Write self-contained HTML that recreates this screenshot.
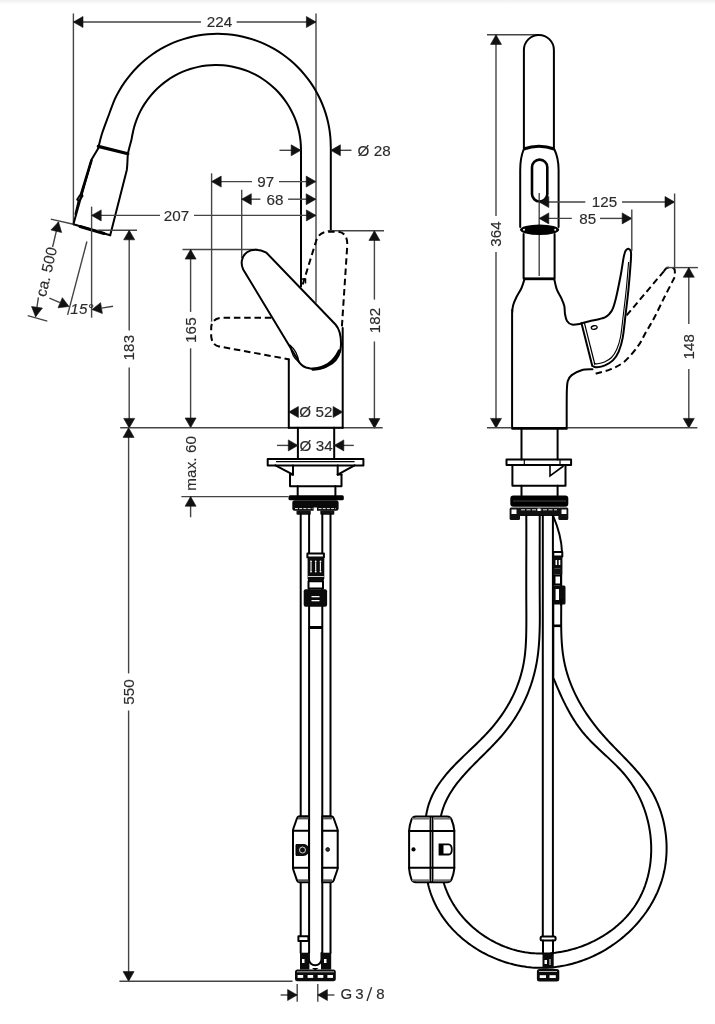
<!DOCTYPE html>
<html><head><meta charset="utf-8"><style>
html,body{margin:0;padding:0;background:#fff;}
body{width:715px;height:1024px;overflow:hidden;position:relative;}
svg{display:block;position:absolute;left:0;top:0;will-change:transform;}
text{font-family:"Liberation Sans",sans-serif;fill:#2b2b2b;stroke:#2b2b2b;stroke-width:0.15px;letter-spacing:0.1px;}
.topband{position:absolute;left:0;top:0;width:715px;height:4px;background:linear-gradient(#f0f0f0,#f7f7f7 60%,#fff);}
</style></head><body>
<div class="topband"></div>
<svg width="715" height="1024" viewBox="0 0 715 1024">
<line x1="73.4" y1="13.5" x2="73.4" y2="224.2" stroke="#444" stroke-width="1.4" fill="none" />
<line x1="316" y1="13.5" x2="316" y2="302.7" stroke="#444" stroke-width="1.4" fill="none" />
<line x1="73.4" y1="22" x2="201" y2="22" stroke="#444" stroke-width="1.4" fill="none" />
<line x1="236.6" y1="22" x2="316" y2="22" stroke="#444" stroke-width="1.4" fill="none" />
<polygon points="73.4,22 83,16.5 83,27.5" fill="#111" stroke="#111" stroke-width="0.6" stroke-linejoin="round"/>
<polygon points="316,22 306.4,27.5 306.4,16.5" fill="#111" stroke="#111" stroke-width="0.6" stroke-linejoin="round"/>
<text x="219.6" y="27.3" font-size="15.2" text-anchor="middle" >224</text>
<path d="M330.8,230.8 C330.8,224 330.8,201.8 330.8,190 C330.8,178.2 330.8,167.15 330.8,160 C330.8,152.85 330.87,150.9 330.8,147.1 C330.73,143.3 330.66,140.5 330.37,137.23 C330.08,133.95 329.65,130.67 329.08,127.43 C328.51,124.18 327.79,120.96 326.94,117.78 C326.09,114.6 325.09,111.44 323.97,108.35 C322.84,105.26 321.58,102.2 320.18,99.22 C318.79,96.23 317.27,93.3 315.62,90.45 C313.97,87.6 312.2,84.81 310.31,82.11 C308.42,79.42 306.41,76.79 304.29,74.27 C302.18,71.75 299.94,69.31 297.62,66.98 C295.29,64.66 292.85,62.42 290.33,60.31 C287.81,58.19 285.18,56.18 282.49,54.29 C279.79,52.4 277,50.63 274.15,48.98 C271.3,47.33 268.37,45.81 265.38,44.42 C262.4,43.02 259.34,41.76 256.25,40.63 C253.16,39.51 250,38.51 246.82,37.66 C243.64,36.81 240.42,36.09 237.17,35.52 C233.93,34.95 230.65,34.52 227.37,34.23 C224.1,33.94 220.79,33.8 217.5,33.8 C214.21,33.8 210.9,33.94 207.63,34.23 C204.35,34.52 201.07,34.95 197.83,35.52 C194.58,36.09 191.36,36.81 188.18,37.66 C185,38.51 181.84,39.51 178.75,40.63 C175.66,41.76 172.6,43.02 169.62,44.42 C166.63,45.81 163.7,47.33 160.85,48.98 C158,50.63 155.21,52.4 152.51,54.29 C149.82,56.18 147.19,58.19 144.67,60.31 C142.15,62.42 139.71,64.66 137.38,66.98 C135.06,69.31 132.82,71.75 130.71,74.27 C128.59,76.79 126.58,79.42 124.69,82.11 C122.8,84.81 121.03,87.6 119.38,90.45 C117.73,93.3 116.68,94.88 114.82,99.22 C112.95,103.56 110.3,110.87 108.2,116.5 C106.1,122.13 103.8,128.02 102.2,133 C100.6,137.98 99.2,144.17 98.6,146.4" stroke="#000" stroke-width="2" fill="none" stroke-linejoin="round" stroke-linecap="round"/>
<path d="M301,286.5 C301,272.08 301,220.25 301,200 C301,179.75 301,173.33 301,165 C301,156.67 301.07,153.9 301,150 C300.93,146.1 300.86,144.39 300.58,141.61 C300.31,138.82 299.89,136.04 299.34,133.3 C298.79,130.55 298.1,127.82 297.29,125.15 C296.47,122.47 295.51,119.83 294.43,117.24 C293.36,114.66 292.14,112.12 290.82,109.66 C289.49,107.2 288.03,104.79 286.47,102.47 C284.9,100.15 283.22,97.9 281.43,95.74 C279.64,93.59 277.74,91.51 275.75,89.55 C273.76,87.58 271.67,85.7 269.49,83.94 C267.32,82.18 265.05,80.52 262.71,78.98 C260.37,77.45 257.95,76.02 255.47,74.72 C252.99,73.42 250.44,72.24 247.84,71.19 C245.25,70.14 242.59,69.22 239.9,68.43 C237.22,67.64 234.48,66.99 231.73,66.47 C228.98,65.95 226.2,65.57 223.41,65.32 C220.62,65.08 217.81,64.97 215.01,65.01 C212.21,65.04 209.4,65.21 206.62,65.52 C203.84,65.83 201.06,66.28 198.33,66.86 C195.59,67.44 192.87,68.16 190.2,69.01 C187.54,69.86 184.9,70.84 182.33,71.95 C179.76,73.06 177.24,74.3 174.79,75.66 C172.34,77.01 169.95,78.5 167.65,80.09 C165.35,81.68 163.12,83.39 160.99,85.21 C158.85,87.02 156.8,88.94 154.86,90.95 C152.91,92.97 151.06,95.09 149.32,97.28 C147.59,99.47 145.95,101.77 144.44,104.12 C142.93,106.48 141.53,108.92 140.26,111.41 C138.99,113.9 137.84,116.47 136.82,119.08 C135.81,121.68 134.91,124.35 134.16,127.05 C133.4,129.74 132.75,133.08 132.29,135.24 C131.83,137.4 131.87,138.04 131.4,140 C130.93,141.96 130.08,144.75 129.5,147 C128.92,149.25 128.17,152.42 127.9,153.5" stroke="#000" stroke-width="2" fill="none" stroke-linejoin="round" stroke-linecap="round"/>
<line x1="98.3" y1="146.4" x2="127.9" y2="153.7" stroke="#000" stroke-width="3.2" stroke-linecap="round" />
<polyline points="98.6,147.8 91.6,159.6 73.4,224.2" stroke="#000" stroke-width="2" fill="none" stroke-linejoin="round" stroke-linecap="round"/>
<line x1="91.4" y1="160.5" x2="81.5" y2="193" stroke="#000" stroke-width="2.6" stroke-linecap="round" />
<polygon points="81.5,193 77.2,199.5 79,201 82.5,196" stroke="#000" stroke-width="2" fill="none" stroke-linejoin="round" stroke-linecap="round"/>
<line x1="78.6" y1="201" x2="75.5" y2="214" stroke="#000" stroke-width="2" fill="none" stroke-linejoin="round" stroke-linecap="round" />
<path d="M127.9,153.7 C127.3,160 127.6,165 126.8,170 L110.2,235.2" stroke="#000" stroke-width="2" fill="none" stroke-linejoin="round" stroke-linecap="round"/>
<polyline points="73.4,224.2 110.2,235.2" stroke="#000" stroke-width="2" fill="none" stroke-linejoin="round" stroke-linecap="round"/>
<line x1="80" y1="226.5" x2="104" y2="233.5" stroke="#000" stroke-width="3" stroke-linecap="round" />
<line x1="91.6" y1="206.6" x2="91.6" y2="317.7" stroke="#444" stroke-width="1.4" fill="none" />
<line x1="91.6" y1="215.4" x2="160" y2="215.4" stroke="#444" stroke-width="1.4" fill="none" />
<line x1="194" y1="215.4" x2="316" y2="215.4" stroke="#444" stroke-width="1.4" fill="none" />
<polygon points="91.6,215.4 101.2,209.9 101.2,220.9" fill="#111" stroke="#111" stroke-width="0.6" stroke-linejoin="round"/>
<polygon points="316,215.4 306.4,220.9 306.4,209.9" fill="#111" stroke="#111" stroke-width="0.6" stroke-linejoin="round"/>
<text x="176.5" y="220.5" font-size="15.2" text-anchor="middle" >207</text>
<line x1="279.5" y1="150.3" x2="300.8" y2="150.3" stroke="#444" stroke-width="1.4" fill="none" />
<polygon points="300.8,150.3 291.2,155.8 291.2,144.8" fill="#111" stroke="#111" stroke-width="0.6" stroke-linejoin="round"/>
<line x1="330.8" y1="150.3" x2="351.5" y2="150.3" stroke="#444" stroke-width="1.4" fill="none" />
<polygon points="330.8,150.3 340.4,144.8 340.4,155.8" fill="#111" stroke="#111" stroke-width="0.6" stroke-linejoin="round"/>
<text x="357.5" y="155.8" font-size="15.2" text-anchor="start" >&#216; 28</text>
<line x1="211.6" y1="173.3" x2="211.6" y2="321.7" stroke="#444" stroke-width="1.4" fill="none" />
<line x1="211.6" y1="181.6" x2="252" y2="181.6" stroke="#444" stroke-width="1.4" fill="none" />
<line x1="279" y1="181.6" x2="315.8" y2="181.6" stroke="#444" stroke-width="1.4" fill="none" />
<polygon points="211.6,181.6 221.2,176.1 221.2,187.1" fill="#111" stroke="#111" stroke-width="0.6" stroke-linejoin="round"/>
<polygon points="315.8,181.6 306.2,187.1 306.2,176.1" fill="#111" stroke="#111" stroke-width="0.6" stroke-linejoin="round"/>
<text x="265.8" y="187" font-size="15.2" text-anchor="middle" >97</text>
<line x1="241.7" y1="189.7" x2="241.7" y2="258" stroke="#444" stroke-width="1.4" fill="none" />
<line x1="241.7" y1="199.2" x2="260.4" y2="199.2" stroke="#444" stroke-width="1.4" fill="none" />
<line x1="288.1" y1="199.2" x2="315.8" y2="199.2" stroke="#444" stroke-width="1.4" fill="none" />
<polygon points="241.7,199.2 251.3,193.7 251.3,204.7" fill="#111" stroke="#111" stroke-width="0.6" stroke-linejoin="round"/>
<polygon points="315.8,199.2 306.2,204.7 306.2,193.7" fill="#111" stroke="#111" stroke-width="0.6" stroke-linejoin="round"/>
<text x="275" y="204.5" font-size="15.2" text-anchor="middle" >68</text>
<line x1="97.3" y1="230.2" x2="137" y2="230.2" stroke="#444" stroke-width="1.4" fill="none" />
<line x1="129.2" y1="230.2" x2="129.2" y2="330.5" stroke="#444" stroke-width="1.4" fill="none" />
<line x1="129.2" y1="367.5" x2="129.2" y2="428" stroke="#444" stroke-width="1.4" fill="none" />
<polygon points="129.2,230.2 134.7,239.8 123.7,239.8" fill="#111" stroke="#111" stroke-width="0.6" stroke-linejoin="round"/>
<polygon points="129.2,428 123.7,418.4 134.7,418.4" fill="#111" stroke="#111" stroke-width="0.6" stroke-linejoin="round"/>
<text x="134.3" y="347.6" font-size="15.2" text-anchor="middle" transform="rotate(-90 134.3 347.6)" >183</text>
<line x1="182.5" y1="249.5" x2="258" y2="249.5" stroke="#444" stroke-width="1.4" fill="none" />
<line x1="190.6" y1="249.5" x2="190.6" y2="311.9" stroke="#444" stroke-width="1.4" fill="none" />
<line x1="190.6" y1="348.3" x2="190.6" y2="427.6" stroke="#444" stroke-width="1.4" fill="none" />
<polygon points="190.6,249.5 196.1,259.1 185.1,259.1" fill="#111" stroke="#111" stroke-width="0.6" stroke-linejoin="round"/>
<polygon points="190.6,427.6 185.1,418 196.1,418" fill="#111" stroke="#111" stroke-width="0.6" stroke-linejoin="round"/>
<text x="195.7" y="330.1" font-size="15.2" text-anchor="middle" transform="rotate(-90 195.7 330.1)" >165</text>
<line x1="327.7" y1="230.8" x2="384" y2="230.8" stroke="#444" stroke-width="1.4" fill="none" />
<line x1="374.4" y1="230.8" x2="374.4" y2="299.6" stroke="#444" stroke-width="1.4" fill="none" />
<line x1="374.4" y1="341.5" x2="374.4" y2="428.2" stroke="#444" stroke-width="1.4" fill="none" />
<polygon points="374.4,230.8 379.9,240.4 368.9,240.4" fill="#111" stroke="#111" stroke-width="0.6" stroke-linejoin="round"/>
<polygon points="374.4,428.2 368.9,418.6 379.9,418.6" fill="#111" stroke="#111" stroke-width="0.6" stroke-linejoin="round"/>
<text x="379.5" y="320.5" font-size="15.2" text-anchor="middle" transform="rotate(-90 379.5 320.5)" >182</text>
<line x1="120.2" y1="427.8" x2="382.7" y2="427.8" stroke="#444" stroke-width="1.4" fill="none" />
<path d="M302.7,284.5 L315.8,242 Q318.5,232 328,231.8 L338,231.8 Q347.5,232.5 347.3,245 L341.8,328" stroke="#000" stroke-width="2" fill="none" stroke-dasharray="6.5 3.8"/>
<path d="M271.3,317.8 L222,317.8 Q211.3,318.5 211.2,328 L211.2,336.4 Q212,345 219,346.4 L289.5,359.4" stroke="#000" stroke-width="2" fill="none" stroke-dasharray="6.5 3.8"/>
<path d="M266.4,252.7 L335.5,324.5 C339.5,329 341.2,336 341,345 C340.8,353 338,359 332,363.5 C325,368.5 315,370.5 306,367.5 C302,366 299.5,363.5 297.6,359.5 L243.2,269.5 C240.5,264 241.2,256.5 247,252.2 C251.5,249 259,248.6 266.4,252.7 Z" stroke="#000" stroke-width="2" fill="none" stroke-linejoin="round" stroke-linecap="round"/>
<path d="M313,369.2 C324,368.5 334,362.5 339.3,351" stroke="#000" stroke-width="3.2" fill="none" stroke-linecap="round"/>
<path d="M290.3,345.5 Q297.2,351 298.8,362 Q291.8,357 290.3,345.5 Z" stroke="#000" stroke-width="1.4" fill="none"/>
<polyline points="301,284 301.5,279 305.5,279 305.5,283.5" stroke="#000" stroke-width="1.5" fill="none"/>
<line x1="288.8" y1="359.4" x2="288.8" y2="427.8" stroke="#000" stroke-width="2" fill="none" stroke-linejoin="round" stroke-linecap="round" />
<line x1="342.7" y1="328" x2="342.7" y2="427.8" stroke="#000" stroke-width="2" fill="none" stroke-linejoin="round" stroke-linecap="round" />
<line x1="288.8" y1="427.8" x2="342.7" y2="427.8" stroke="#000" stroke-width="2" fill="none" stroke-linejoin="round" stroke-linecap="round" />
<polygon points="288.8,412 298.4,406.5 298.4,417.5" fill="#111" stroke="#111" stroke-width="0.6" stroke-linejoin="round"/>
<polygon points="342.7,412 333.1,417.5 333.1,406.5" fill="#111" stroke="#111" stroke-width="0.6" stroke-linejoin="round"/>
<text x="316" y="417.2" font-size="15.2" text-anchor="middle" >&#216; 52</text>
<line x1="297.9" y1="427.8" x2="297.9" y2="458.8" stroke="#000" stroke-width="2" fill="none" stroke-linejoin="round" stroke-linecap="round" />
<line x1="334.2" y1="427.8" x2="334.2" y2="458.8" stroke="#000" stroke-width="2" fill="none" stroke-linejoin="round" stroke-linecap="round" />
<line x1="277" y1="445.4" x2="297.9" y2="445.4" stroke="#444" stroke-width="1.4" fill="none" />
<polygon points="297.9,445.4 288.3,450.9 288.3,439.9" fill="#111" stroke="#111" stroke-width="0.6" stroke-linejoin="round"/>
<line x1="334.2" y1="445.4" x2="353.8" y2="445.4" stroke="#444" stroke-width="1.4" fill="none" />
<polygon points="334.2,445.4 343.8,439.9 343.8,450.9" fill="#111" stroke="#111" stroke-width="0.6" stroke-linejoin="round"/>
<text x="316.2" y="450.6" font-size="15.2" text-anchor="middle" >&#216; 34</text>
<rect x="267.7" y="458.9" width="95.7" height="6.5" stroke="#000" stroke-width="2" fill="none" stroke-linejoin="round" stroke-linecap="round"/>
<line x1="276" y1="461.6" x2="354.6" y2="461.6" stroke="#000" stroke-width="1.2" />
<polyline points="275.4,465.4 293,474.6" stroke="#000" stroke-width="2" fill="none" stroke-linejoin="round" stroke-linecap="round"/>
<line x1="293" y1="465.4" x2="293" y2="474.6" stroke="#000" stroke-width="2" fill="none" stroke-linejoin="round" stroke-linecap="round" />
<polyline points="354.6,465.4 337.7,474.6" stroke="#000" stroke-width="2" fill="none" stroke-linejoin="round" stroke-linecap="round"/>
<line x1="337.7" y1="465.4" x2="337.7" y2="474.6" stroke="#000" stroke-width="2" fill="none" stroke-linejoin="round" stroke-linecap="round" />
<polyline points="290,474.6 290,486.2 341.5,486.2 341.5,474.6" stroke="#000" stroke-width="2" fill="none" stroke-linejoin="round" stroke-linecap="round"/>
<line x1="290" y1="474.6" x2="293" y2="474.6" stroke="#000" stroke-width="2" fill="none" stroke-linejoin="round" stroke-linecap="round" />
<line x1="337.7" y1="474.6" x2="341.5" y2="474.6" stroke="#000" stroke-width="2" fill="none" stroke-linejoin="round" stroke-linecap="round" />
<line x1="297.7" y1="486.2" x2="297.7" y2="495.4" stroke="#000" stroke-width="2" fill="none" stroke-linejoin="round" stroke-linecap="round" />
<line x1="335.4" y1="486.2" x2="335.4" y2="495.4" stroke="#000" stroke-width="2" fill="none" stroke-linejoin="round" stroke-linecap="round" />
<rect x="288.5" y="495.2" width="55.3" height="5" rx="1.5" fill="#000"/>
<rect x="292.3" y="500.3" width="46.3" height="10.5" rx="2.5" fill="#0a0a0a"/>
<line x1="295" y1="508.6" x2="312.5" y2="508.6" stroke="#fff" stroke-width="0.9" stroke-dasharray="3 1.2" />
<line x1="318.5" y1="508.6" x2="336" y2="508.6" stroke="#fff" stroke-width="0.9" stroke-dasharray="3 1.2" />
<rect x="313.6" y="507.5" width="3.4" height="5" fill="#fff"/>
<rect x="296.5" y="510.5" width="14.3" height="4.3" rx="1" fill="#111"/>
<rect x="320.3" y="510.5" width="14" height="4.3" rx="1" fill="#111"/>
<line x1="181.4" y1="496.6" x2="288.5" y2="496.6" stroke="#444" stroke-width="1.4" fill="none" />
<line x1="190.6" y1="496.6" x2="190.6" y2="517.3" stroke="#444" stroke-width="1.4" fill="none" />
<polygon points="190.6,496.6 196.1,506.2 185.1,506.2" fill="#111" stroke="#111" stroke-width="0.6" stroke-linejoin="round"/>
<text x="196.2" y="463.3" font-size="15.2" text-anchor="middle" transform="rotate(-90 196.2 463.3)" >max. 60</text>
<line x1="300.7" y1="514" x2="300.7" y2="953" stroke="#000" stroke-width="2" fill="none" stroke-linejoin="round" stroke-linecap="round" />
<line x1="309.1" y1="514" x2="309.1" y2="953" stroke="#000" stroke-width="2" fill="none" stroke-linejoin="round" stroke-linecap="round" />
<line x1="322.3" y1="514" x2="322.3" y2="953" stroke="#000" stroke-width="2" fill="none" stroke-linejoin="round" stroke-linecap="round" />
<line x1="330.5" y1="514" x2="330.5" y2="953" stroke="#000" stroke-width="2" fill="none" stroke-linejoin="round" stroke-linecap="round" />
<rect x="307.4" y="553.5" width="16.5" height="4" fill="#fff" stroke="#000" stroke-width="2" fill="none" stroke-linejoin="round" stroke-linecap="round"/>
<rect x="307.6" y="557.2" width="16.7" height="23.5" rx="2" fill="#0b0b0b"/>
<circle cx="311" cy="561.5" r="0.9" fill="#fff"/>
<circle cx="315.7" cy="561.5" r="0.9" fill="#fff"/>
<circle cx="320.5" cy="561.5" r="0.9" fill="#fff"/>
<circle cx="311" cy="571.5" r="0.9" fill="#fff"/>
<circle cx="315.7" cy="571.5" r="0.9" fill="#fff"/>
<circle cx="320.5" cy="571.5" r="0.9" fill="#fff"/>
<line x1="311" y1="562.5" x2="311" y2="570.5" stroke="#fff" stroke-width="1.1" />
<line x1="315.7" y1="562.5" x2="315.7" y2="570.5" stroke="#fff" stroke-width="1.1" />
<line x1="320.4" y1="562.5" x2="320.4" y2="570.5" stroke="#fff" stroke-width="1.1" />
<line x1="308" y1="576.5" x2="323.8" y2="576.5" stroke="#fff" stroke-width="0.8" />
<rect x="308.5" y="581.2" width="14.5" height="7.4" fill="#fff" stroke="#000" stroke-width="2" fill="none" stroke-linejoin="round" stroke-linecap="round"/>
<rect x="303.7" y="589.2" width="23.4" height="17.6" rx="2" fill="#0b0b0b"/>
<rect x="311.5" y="596" width="8" height="1.3" fill="#fff"/>
<rect x="311.5" y="600" width="8" height="1.3" fill="#fff"/>
<rect x="308.6" y="626" width="13.9" height="3" fill="#000"/>
<path d="M299.5,816.2 Q297.6,816.4 297,818.2 L293.4,828.5 Q293,829.8 293,831 L293,867.5 Q293,868.8 293.4,870 L297,880.3 Q297.6,882.1 299.5,882.3 L309,882.3 L309,816.2 Z" stroke="#000" stroke-width="2" fill="#fff" stroke-linejoin="round"/>
<path d="M331.2,816.2 Q333.1,816.4 333.7,818.2 L337.3,828.5 Q337.7,829.8 337.7,831 L337.7,867.5 Q337.7,868.8 337.3,870 L333.7,880.3 Q333.1,882.1 331.2,882.3 L322.3,882.3 L322.3,816.2 Z" stroke="#000" stroke-width="2" fill="#fff" stroke-linejoin="round"/>
<line x1="293" y1="830.8" x2="309" y2="830.8" stroke="#000" stroke-width="2" fill="none" stroke-linejoin="round" stroke-linecap="round" />
<line x1="322.3" y1="830.8" x2="337.7" y2="830.8" stroke="#000" stroke-width="2" fill="none" stroke-linejoin="round" stroke-linecap="round" />
<line x1="293" y1="867.7" x2="309" y2="867.7" stroke="#000" stroke-width="2" fill="none" stroke-linejoin="round" stroke-linecap="round" />
<line x1="322.3" y1="867.7" x2="337.7" y2="867.7" stroke="#000" stroke-width="2" fill="none" stroke-linejoin="round" stroke-linecap="round" />
<rect x="298" y="817" width="10.5" height="2.4" fill="#555"/>
<rect x="323" y="817" width="9" height="2.4" fill="#555"/>
<rect x="298" y="879.3" width="10.5" height="2.4" fill="#555"/>
<rect x="323" y="879.3" width="9" height="2.4" fill="#555"/>
<path d="M296,844.6 L304,844.6 C308,845 309,848 309,850 C309,853 307,855.4 303,855.4 L296,855.4 Z" fill="#111" stroke="#000" stroke-width="1"/>
<circle cx="302.5" cy="850" r="3" fill="none" stroke="#fff" stroke-width="0.8"/>
<circle cx="327.7" cy="849.5" r="1.9" fill="#333" stroke="#000" stroke-width="0.8"/>
<rect x="298.4" y="936.3" width="10" height="4.7" fill="#fff" stroke="#000" stroke-width="2" fill="none" stroke-linejoin="round" stroke-linecap="round"/>
<path d="M308.9,953 L308.9,959 A6.3,6.3 0 0 0 321.5,959 L321.5,953" stroke="#000" stroke-width="2" fill="none" stroke-linejoin="round" stroke-linecap="round"/>
<rect x="300" y="952.7" width="9.4" height="16.8" fill="#0b0b0b"/>
<rect x="321" y="952.7" width="10.2" height="16.8" fill="#0b0b0b"/>
<rect x="302" y="959" width="2.5" height="4" fill="#fff"/>
<rect x="324" y="959" width="2.5" height="4" fill="#fff"/>
<path d="M312,968 L315.2,970.5 L318.5,968 Z" fill="#000"/>
<rect x="295" y="969.5" width="40.8" height="11.7" rx="2.5" fill="#0b0b0b"/>
<line x1="297" y1="971.8" x2="334" y2="971.8" stroke="#fff" stroke-width="0.7" />
<rect x="297.6" y="975" width="5.6" height="2.9" fill="#fff"/>
<rect x="307.6" y="975" width="5.6" height="2.9" fill="#fff"/>
<rect x="317.7" y="975" width="5.6" height="2.9" fill="#fff"/>
<rect x="327.4" y="975" width="5.6" height="2.9" fill="#fff"/>
<line x1="128.6" y1="437" x2="128.6" y2="673.4" stroke="#444" stroke-width="1.4" fill="none" />
<line x1="128.6" y1="710.4" x2="128.6" y2="981.2" stroke="#444" stroke-width="1.4" fill="none" />
<polygon points="128.6,427.8 134.1,437.4 123.1,437.4" fill="#111" stroke="#111" stroke-width="0.6" stroke-linejoin="round"/>
<polygon points="128.6,981.2 123.1,971.6 134.1,971.6" fill="#111" stroke="#111" stroke-width="0.6" stroke-linejoin="round"/>
<line x1="119.4" y1="981.2" x2="292.5" y2="981.2" stroke="#444" stroke-width="1.4" fill="none" />
<text x="133.7" y="691.9" font-size="15.2" text-anchor="middle" transform="rotate(-90 133.7 691.9)" >550</text>
<line x1="297.2" y1="984" x2="297.2" y2="1001.8" stroke="#444" stroke-width="1.4" fill="none" />
<line x1="317.8" y1="984" x2="317.8" y2="1001.8" stroke="#444" stroke-width="1.4" fill="none" />
<line x1="280.6" y1="995" x2="297.2" y2="995" stroke="#444" stroke-width="1.4" fill="none" />
<polygon points="297.2,995 287.6,1000.5 287.6,989.5" fill="#111" stroke="#111" stroke-width="0.6" stroke-linejoin="round"/>
<line x1="317.8" y1="995" x2="334.4" y2="995" stroke="#444" stroke-width="1.4" fill="none" />
<polygon points="317.8,995 327.4,989.5 327.4,1000.5" fill="#111" stroke="#111" stroke-width="0.6" stroke-linejoin="round"/>
<text x="340.6" y="999" font-size="15" text-anchor="start" >G</text>
<text x="355.3" y="999" font-size="15" text-anchor="start" >3</text>
<line x1="367" y1="1001" x2="371.6" y2="987.3" stroke="#2b2b2b" stroke-width="1.3" />
<text x="376.2" y="999" font-size="15" text-anchor="start" >8</text>
<line x1="50.8" y1="219.1" x2="73.4" y2="224.2" stroke="#444" stroke-width="1.4" fill="none" />
<line x1="27.7" y1="315.6" x2="47.3" y2="321.2" stroke="#444" stroke-width="1.4" fill="none" />
<line x1="58.5" y1="221.9" x2="52.6" y2="247" stroke="#444" stroke-width="1.4" fill="none" />
<line x1="38.4" y1="297.4" x2="35.6" y2="316.5" stroke="#444" stroke-width="1.4" fill="none" />
<polygon points="58.5,221.9 61.66,232.5 50.95,229.99" fill="#111" stroke="#111" stroke-width="0.6" stroke-linejoin="round"/>
<polygon points="35.6,316.8 31.53,306.51 42.41,308.08" fill="#111" stroke="#111" stroke-width="0.6" stroke-linejoin="round"/>
<text x="46.6" y="271.8" font-size="15.2" text-anchor="middle" transform="rotate(-77 46.6 271.8)" dy="5">ca. 500</text>
<line x1="86.9" y1="241.5" x2="67.6" y2="314.9" stroke="#444" stroke-width="1.4" fill="none" />
<polygon points="69,306.5 58.01,307.77 62.34,297.66" fill="#111" stroke="#111" stroke-width="0.6" stroke-linejoin="round"/>
<line x1="49.4" y1="298.1" x2="60" y2="302.6" stroke="#444" stroke-width="1.4" fill="none" />
<polygon points="92,309.6 100.6,302.64 102.36,313.49" fill="#111" stroke="#111" stroke-width="0.6" stroke-linejoin="round"/>
<line x1="113" y1="306.2" x2="101.5" y2="308.1" stroke="#444" stroke-width="1.4" fill="none" />
<text x="82" y="314.3" font-size="15.2" text-anchor="middle" font-style="italic">15&#176;</text>
<line x1="487" y1="34.8" x2="539" y2="34.8" stroke="#444" stroke-width="1.4" fill="none" />
<line x1="496" y1="34.8" x2="496" y2="216" stroke="#444" stroke-width="1.4" fill="none" />
<line x1="496" y1="252" x2="496" y2="428" stroke="#444" stroke-width="1.4" fill="none" />
<polygon points="496,34.8 501.5,44.4 490.5,44.4" fill="#111" stroke="#111" stroke-width="0.6" stroke-linejoin="round"/>
<polygon points="496,428 490.5,418.4 501.5,418.4" fill="#111" stroke="#111" stroke-width="0.6" stroke-linejoin="round"/>
<text x="501.1" y="234" font-size="15.2" text-anchor="middle" transform="rotate(-90 501.1 234)" >364</text>
<path d="M523.9,148 L523.9,50 A15,15 0 0 1 553.9,50 L553.9,148" stroke="#000" stroke-width="2" fill="none" stroke-linejoin="round" stroke-linecap="round"/>
<path d="M523.6,149 Q539,143.5 554.3,149" stroke="#000" stroke-width="3.2" fill="none"/>
<path d="M523.8,149 Q520.2,158 520.2,170 L520.2,227" stroke="#000" stroke-width="2" fill="none" stroke-linejoin="round" stroke-linecap="round"/>
<path d="M554.2,149 Q558.6,158 558.6,170 L558.6,227" stroke="#000" stroke-width="2" fill="none" stroke-linejoin="round" stroke-linecap="round"/>
<rect x="532" y="159.6" width="15.3" height="41.9" rx="7.6" stroke="#000" stroke-width="2.6" fill="none"/>
<line x1="539.2" y1="193" x2="539.2" y2="276" stroke="#444" stroke-width="1.4" fill="none" />
<ellipse cx="539.6" cy="229.8" rx="19.6" ry="5.3" fill="#000"/>
<circle cx="524" cy="229.8" r="1" fill="#fff"/><circle cx="555.2" cy="229.8" r="1" fill="#fff"/>
<line x1="523.6" y1="234" x2="523.6" y2="278.6" stroke="#000" stroke-width="2" fill="none" stroke-linejoin="round" stroke-linecap="round" />
<line x1="554.6" y1="234" x2="554.6" y2="278.6" stroke="#000" stroke-width="2" fill="none" stroke-linejoin="round" stroke-linecap="round" />
<line x1="523.6" y1="278.8" x2="554.6" y2="278.8" stroke="#000" stroke-width="2.8" />
<line x1="539.2" y1="202" x2="585.3" y2="202" stroke="#444" stroke-width="1.4" fill="none" />
<line x1="622" y1="202" x2="674.6" y2="202" stroke="#444" stroke-width="1.4" fill="none" />
<polygon points="539.2,202 548.8,196.5 548.8,207.5" fill="#111" stroke="#111" stroke-width="0.6" stroke-linejoin="round"/>
<polygon points="674.6,202 665,207.5 665,196.5" fill="#111" stroke="#111" stroke-width="0.6" stroke-linejoin="round"/>
<text x="604.5" y="207.3" font-size="15.2" text-anchor="middle" >125</text>
<line x1="674.6" y1="193.5" x2="674.6" y2="270.5" stroke="#444" stroke-width="1.4" fill="none" />
<line x1="539.2" y1="218.4" x2="571.8" y2="218.4" stroke="#444" stroke-width="1.4" fill="none" />
<line x1="600" y1="218.4" x2="631.8" y2="218.4" stroke="#444" stroke-width="1.4" fill="none" />
<polygon points="539.2,218.4 548.8,212.9 548.8,223.9" fill="#111" stroke="#111" stroke-width="0.6" stroke-linejoin="round"/>
<polygon points="631.8,218.4 622.2,223.9 622.2,212.9" fill="#111" stroke="#111" stroke-width="0.6" stroke-linejoin="round"/>
<text x="587.8" y="223.6" font-size="15.2" text-anchor="middle" >85</text>
<line x1="631.8" y1="209.4" x2="631.8" y2="251" stroke="#444" stroke-width="1.4" fill="none" />
<path d="M524.6,278.8 C524.08,280.33 522.85,284.97 521.5,288 C520.15,291.03 517.88,294.17 516.5,297 C515.12,299.83 513.9,302.5 513.2,305 C512.5,307.5 512.48,309.5 512.3,312 C512.12,314.5 512.13,300.67 512.1,320 C512.07,339.33 512.1,410 512.1,428" stroke="#000" stroke-width="2" fill="none" stroke-linejoin="round" stroke-linecap="round"/>
<path d="M554.2,278.8 C554.65,280.6 555.68,286.32 556.9,289.6 C558.12,292.88 560.27,295.77 561.5,298.5 C562.73,301.23 563.72,303.42 564.3,306 C564.88,308.58 564.55,311.5 565,314 C565.45,316.5 565.83,319.23 567,321 C568.17,322.77 569.6,324.17 572,324.6 C574.4,325.03 579.83,323.77 581.4,323.6" stroke="#000" stroke-width="2" fill="none" stroke-linejoin="round" stroke-linecap="round"/>
<path d="M581.5,323.2 C582.82,322.87 585.48,322.17 589.4,321.2 C593.32,320.23 601.25,319.18 605,317.4 C608.75,315.62 610.1,313.62 611.9,310.5 C613.7,307.38 614.33,304.58 615.8,298.7 C617.27,292.82 619.4,282.05 620.7,275.2 C622,268.35 622.78,261.67 623.6,257.6 C624.42,253.53 624.78,252.27 625.6,250.8 C626.42,249.33 627.62,248.65 628.5,248.8 C629.38,248.95 630.5,249.9 630.9,251.7 C631.3,253.5 631.3,253.38 630.9,259.6 C630.5,265.82 629.38,279.87 628.5,289 C627.62,298.13 626.57,306.25 625.6,314.4 C624.63,322.55 623.85,331.7 622.7,337.9 C621.55,344.1 620.33,347.85 618.7,351.6 C617.07,355.35 615.18,358.12 612.9,360.4 C610.62,362.68 607.62,364.15 605,365.3 C602.38,366.45 599.12,367.1 597.2,367.3 C595.28,367.5 594.12,366.63 593.5,366.5" stroke="#000" stroke-width="2" fill="none" stroke-linejoin="round" stroke-linecap="round"/>
<path d="M628.6,262 C628.22,266.5 627.17,280.33 626.3,289 C625.43,297.67 624.37,306 623.4,314 C622.43,322 621.62,331.08 620.5,337 C619.38,342.92 618.2,346.08 616.7,349.5 C615.2,352.92 613.53,355.42 611.5,357.5 C609.47,359.58 606.83,360.95 604.5,362 C602.17,363.05 599.28,363.58 597.5,363.8 C595.72,364.02 594.42,363.38 593.8,363.3" stroke="#000" stroke-width="1.1" fill="none"/>
<path d="M581.5,323.2 L592.3,366" stroke="#000" stroke-width="2" fill="none" stroke-linejoin="round" stroke-linecap="round"/>
<path d="M584.4,322.8 L595,365" stroke="#000" stroke-width="1.2" fill="none"/>
<ellipse cx="594.2" cy="327.5" rx="3" ry="1.8" stroke="#000" stroke-width="1.3" fill="none" transform="rotate(-12 594.2 327.5)"/>
<path d="M592.5,369.3 C590.67,369.45 584.97,369.23 581.5,370.2 C578.03,371.17 573.98,373.3 571.7,375.1 C569.42,376.9 568.62,378.18 567.8,381 C566.98,383.82 566.98,384.17 566.8,392 C566.62,399.83 566.72,422 566.7,428" stroke="#000" stroke-width="2" fill="none" stroke-linejoin="round" stroke-linecap="round"/>
<path d="M626.6,315.4 L663.8,271.3" stroke="#000" stroke-width="2" fill="none" stroke-dasharray="6.5 3.8"/>
<path d="M663.8,271.3 C664.25,270.78 665.52,268.85 666.5,268.2 C667.48,267.55 668.65,267.47 669.7,267.4 C670.75,267.33 671.98,267.4 672.8,267.8 C673.62,268.2 674.25,268.77 674.6,269.8 C674.95,270.83 674.9,272.77 674.9,274 C674.9,275.23 674.65,276.67 674.6,277.2" stroke="#000" stroke-width="2" fill="none" stroke-dasharray="6.5 3.8"/>
<path d="M674.6,277.2 C672.83,280.67 667.43,291.15 664,298 C660.57,304.85 657,312.63 654,318.3 C651,323.97 648.62,327.43 646,332 C643.38,336.57 641.87,340.8 638.3,345.7 C634.73,350.6 629.17,357.48 624.6,361.4 C620.03,365.32 615.47,367.23 610.9,369.2 C606.33,371.17 600.1,372.4 597.2,373.2 C594.3,374 594.12,373.87 593.5,374" stroke="#000" stroke-width="2" fill="none" stroke-dasharray="6.5 3.8"/>
<line x1="666" y1="267.6" x2="697.9" y2="267.6" stroke="#444" stroke-width="1.4" fill="none" />
<line x1="688.8" y1="267.6" x2="688.8" y2="324" stroke="#444" stroke-width="1.4" fill="none" />
<line x1="688.8" y1="369" x2="688.8" y2="428" stroke="#444" stroke-width="1.4" fill="none" />
<polygon points="688.8,267.6 694.3,277.2 683.3,277.2" fill="#111" stroke="#111" stroke-width="0.6" stroke-linejoin="round"/>
<polygon points="688.8,428 683.3,418.4 694.3,418.4" fill="#111" stroke="#111" stroke-width="0.6" stroke-linejoin="round"/>
<text x="693.9" y="346.7" font-size="15.2" text-anchor="middle" transform="rotate(-90 693.9 346.7)" >148</text>
<line x1="487" y1="427.8" x2="697.4" y2="427.8" stroke="#444" stroke-width="1.4" fill="none" />
<line x1="511.5" y1="428.4" x2="567.5" y2="428.4" stroke="#000" stroke-width="2.6" />
<line x1="521.5" y1="428.4" x2="521.5" y2="459.4" stroke="#000" stroke-width="2" fill="none" stroke-linejoin="round" stroke-linecap="round" />
<line x1="557.6" y1="428.4" x2="557.6" y2="459.4" stroke="#000" stroke-width="2" fill="none" stroke-linejoin="round" stroke-linecap="round" />
<rect x="506.5" y="459.4" width="64.6" height="5.6" stroke="#000" stroke-width="2" fill="none" stroke-linejoin="round" stroke-linecap="round"/>
<line x1="524.3" y1="459.4" x2="524.3" y2="465" stroke="#000" stroke-width="1.2" />
<line x1="560" y1="459.4" x2="560" y2="465" stroke="#000" stroke-width="1.2" />
<polyline points="512.4,465 512.4,485.7 565.5,485.7 565.5,465" stroke="#000" stroke-width="2" fill="none" stroke-linejoin="round" stroke-linecap="round"/>
<polyline points="563.5,466 550,476 550,466" stroke="#000" stroke-width="1.6" fill="none"/>
<line x1="521.5" y1="485.7" x2="521.5" y2="495.5" stroke="#000" stroke-width="2" fill="none" stroke-linejoin="round" stroke-linecap="round" />
<line x1="557.6" y1="485.7" x2="557.6" y2="495.5" stroke="#000" stroke-width="2" fill="none" stroke-linejoin="round" stroke-linecap="round" />
<rect x="510.3" y="495.5" width="58" height="11.2" rx="3" fill="#000"/>
<line x1="513" y1="501" x2="566" y2="501" stroke="#555" stroke-width="0.8" />
<rect x="509.6" y="507.5" width="10.4" height="12.5" rx="1.5" fill="#111"/>
<rect x="558.3" y="507.5" width="10" height="12.5" rx="1.5" fill="#111"/>
<rect x="511.5" y="509.5" width="5" height="4.5" fill="#fff"/>
<rect x="561.5" y="509.5" width="5" height="4.5" fill="#fff"/>
<rect x="519" y="507.5" width="40" height="8.5" fill="#111"/>
<line x1="521" y1="509.8" x2="557" y2="509.8" stroke="#fff" stroke-width="0.9" stroke-dasharray="4 1.5" />
<rect x="537.5" y="508.5" width="3" height="2.5" fill="#fff"/>
<line x1="542.8" y1="516" x2="542.8" y2="937" stroke="#000" stroke-width="2" fill="none" stroke-linejoin="round" stroke-linecap="round" />
<line x1="552.9" y1="516" x2="552.9" y2="937" stroke="#000" stroke-width="2" fill="none" stroke-linejoin="round" stroke-linecap="round" />
<path d="M553.3,516.4 C557,525 561.5,538 562,552" stroke="#000" stroke-width="2" fill="none" stroke-linejoin="round" stroke-linecap="round"/>
<line x1="553.3" y1="552" x2="553.3" y2="676.5" stroke="#000" stroke-width="2" fill="none" stroke-linejoin="round" stroke-linecap="round" />
<line x1="561.2" y1="552" x2="561.2" y2="605" stroke="#000" stroke-width="2" fill="none" stroke-linejoin="round" stroke-linecap="round" />
<rect x="553.3" y="552" width="9" height="4.5" fill="#fff" stroke="#000" stroke-width="2" fill="none" stroke-linejoin="round" stroke-linecap="round"/>
<rect x="553.3" y="556.5" width="9" height="12" fill="#0b0b0b"/>
<rect x="555.5" y="560" width="1.6" height="5" fill="#fff"/><rect x="558.7" y="560" width="1.6" height="5" fill="#fff"/>
<rect x="553.3" y="568.5" width="9" height="6" fill="#111"/>
<rect x="554.5" y="575.5" width="6.5" height="9" fill="#fff" stroke="#000" stroke-width="2" fill="none" stroke-linejoin="round" stroke-linecap="round"/>
<rect x="553.3" y="585.6" width="12.2" height="18.9" rx="1.5" fill="#0b0b0b"/>
<rect x="555.6" y="589" width="3.4" height="11" fill="#fff"/>
<rect x="553.3" y="624.5" width="8.2" height="2.6" fill="#000"/>
<path d="M526.3,516 L526.31,518.53 L526.32,521.05 L526.33,523.58 L526.34,526.11 L526.34,528.64 L526.34,531.17 L526.34,533.7 L526.34,536.23 L526.34,538.76 L526.34,541.29 L526.34,543.82 L526.33,546.35 L526.33,548.88 L526.32,551.42 L526.32,553.95 L526.31,556.48 L526.3,559.01 L526.3,561.54 L526.29,564.08 L526.28,566.61 L526.28,569.14 L526.27,571.67 L526.27,574.2 L526.27,576.73 L526.26,579.26 L526.26,581.79 L526.26,584.32 L526.26,586.85 L526.26,589.38 L526.27,591.91 L526.28,594.44 L526.28,596.96 L526.29,599.49 L526.31,602.01 L526.32,604.53 L526.33,607.06 L526.35,609.58 L526.36,612.11 L526.37,614.64 L526.37,617.17 L526.37,619.7 L526.36,622.23 L526.35,624.77 L526.33,627.32 L526.29,629.87 L526.25,632.42 L526.19,634.98 L526.12,637.54 L526.02,640.1 L525.9,642.65 L525.75,645.21 L525.58,647.75 L525.37,650.29 L525.12,652.83 L524.84,655.35 L524.52,657.86 L524.14,660.36 L523.73,662.84 L523.26,665.3 L522.74,667.75 L522.18,670.18 L521.57,672.6 L520.91,675 L520.2,677.38 L519.45,679.75 L518.66,682.1 L517.82,684.43 L516.93,686.74 L516.01,689.03 L515.04,691.31 L514.02,693.57 L512.97,695.81 L511.87,698.03 L510.73,700.23 L509.55,702.42 L508.33,704.58 L507.08,706.72 L505.78,708.85 L504.44,710.95 L503.07,713.04 L501.66,715.1 L500.21,717.15 L498.73,719.17 L497.21,721.18 L495.66,723.16 L494.07,725.12 L492.44,727.06 L490.79,728.98 L489.1,730.88 L487.38,732.75 L485.63,734.61 L483.86,736.46 L482.07,738.29 L480.26,740.1 L478.44,741.91 L476.6,743.7 L474.75,745.49 L472.9,747.27 L471.04,749.05 L469.18,750.83 L467.32,752.6 L465.47,754.38 L463.62,756.15 L461.79,757.93 L459.96,759.72 L458.16,761.52 L456.37,763.32 L454.6,765.13 L452.86,766.96 L451.14,768.8 L449.46,770.66 L447.8,772.53 L446.19,774.42 L444.61,776.34 L443.07,778.28 L441.58,780.24 L440.14,782.22 L438.74,784.24 L437.4,786.28 L436.11,788.36 L434.88,790.46 L433.71,792.61 L432.61,794.78 L431.58,797 L430.61,799.26 L429.72,801.55 L428.9,803.89 L428.16,806.27 L427.5,808.7 L426.93,811.18 L426.44,813.71 L426.04,816.29 L425.74,818.92 L425.53,821.6 L425.42,824.34 L425.41,827.14 L425.5,830" stroke="#000" stroke-width="2" fill="none" stroke-linejoin="round" stroke-linecap="round"/>
<path d="M539.71,516 L539.71,518.53 L539.71,521.06 L539.71,523.6 L539.71,526.13 L539.71,528.66 L539.71,531.19 L539.71,533.71 L539.71,536.24 L539.7,538.77 L539.7,541.3 L539.7,543.82 L539.69,546.35 L539.69,548.88 L539.68,551.4 L539.68,553.93 L539.68,556.46 L539.67,558.98 L539.67,561.51 L539.67,564.03 L539.66,566.56 L539.66,569.08 L539.66,571.61 L539.66,574.14 L539.66,576.66 L539.67,579.19 L539.67,581.71 L539.68,584.24 L539.68,586.77 L539.69,589.3 L539.7,591.83 L539.71,594.35 L539.73,596.88 L539.74,599.41 L539.76,601.94 L539.78,604.48 L539.8,607.01 L539.81,609.54 L539.82,612.07 L539.83,614.6 L539.83,617.13 L539.82,619.67 L539.8,622.2 L539.77,624.73 L539.72,627.26 L539.66,629.78 L539.59,632.31 L539.49,634.84 L539.38,637.36 L539.24,639.88 L539.08,642.39 L538.9,644.9 L538.68,647.41 L538.44,649.91 L538.17,652.4 L537.86,654.89 L537.52,657.36 L537.14,659.83 L536.73,662.29 L536.27,664.75 L535.78,667.19 L535.25,669.62 L534.68,672.04 L534.07,674.45 L533.42,676.85 L532.74,679.24 L532.01,681.61 L531.25,683.97 L530.45,686.32 L529.61,688.66 L528.73,690.98 L527.82,693.28 L526.87,695.58 L525.88,697.85 L524.85,700.12 L523.78,702.36 L522.68,704.59 L521.54,706.8 L520.36,709 L519.15,711.18 L517.89,713.34 L516.6,715.48 L515.28,717.6 L513.91,719.71 L512.51,721.79 L511.07,723.86 L509.6,725.9 L508.09,727.93 L506.54,729.93 L504.96,731.91 L503.34,733.87 L501.68,735.81 L500,737.73 L498.28,739.63 L496.54,741.52 L494.78,743.39 L493.01,745.25 L491.21,747.1 L489.4,748.94 L487.58,750.77 L485.76,752.6 L483.92,754.42 L482.09,756.24 L480.26,758.05 L478.43,759.87 L476.61,761.68 L474.8,763.5 L473.01,765.33 L471.22,767.16 L469.46,769 L467.72,770.85 L466,772.71 L464.31,774.58 L462.65,776.47 L461.03,778.37 L459.44,780.28 L457.89,782.22 L456.38,784.18 L454.92,786.16 L453.5,788.16 L452.13,790.19 L450.82,792.24 L449.57,794.33 L448.37,796.44 L447.24,798.58 L446.17,800.76 L445.17,802.97 L444.24,805.21 L443.38,807.5 L442.61,809.82 L441.91,812.18 L441.29,814.59 L440.76,817.04 L440.32,819.53 L439.97,822.08 L439.71,824.67 L439.55,827.31 L439.5,830" stroke="#000" stroke-width="2" fill="none" stroke-linejoin="round" stroke-linecap="round"/>
<path d="M426,870 L426.22,872.59 L426.51,875.17 L426.87,877.72 L427.3,880.24 L427.8,882.74 L428.36,885.21 L428.99,887.66 L429.68,890.08 L430.44,892.47 L431.26,894.84 L432.14,897.18 L433.09,899.49 L434.09,901.77 L435.15,904.02 L436.26,906.24 L437.43,908.43 L438.66,910.59 L439.93,912.72 L441.27,914.82 L442.65,916.88 L444.08,918.91 L445.56,920.91 L447.09,922.87 L448.66,924.8 L450.28,926.69 L451.95,928.55 L453.65,930.37 L455.4,932.15 L457.19,933.9 L459.02,935.61 L460.89,937.28 L462.8,938.91 L464.74,940.51 L466.72,942.06 L468.73,943.58 L470.77,945.05 L472.85,946.48 L474.96,947.87 L477.09,949.22 L479.26,950.53 L481.45,951.79 L483.67,953.01 L485.92,954.18 L488.18,955.32 L490.47,956.4 L492.79,957.44 L495.12,958.43 L497.47,959.38 L499.84,960.28 L502.23,961.13 L504.63,961.94 L507.05,962.69 L509.48,963.4 L511.93,964.05 L514.39,964.66 L516.85,965.22 L519.33,965.72 L521.81,966.17 L524.3,966.57 L526.8,966.92 L529.3,967.21 L531.81,967.46 L534.32,967.64 L536.82,967.77 L539.33,967.85 L541.84,967.87 L544.35,967.84 L546.85,967.75 L549.35,967.6 L551.85,967.4 L554.34,967.15 L556.82,966.85 L559.3,966.49 L561.77,966.08 L564.23,965.62 L566.68,965.11 L569.13,964.55 L571.56,963.94 L573.98,963.28 L576.38,962.58 L578.78,961.82 L581.15,961.02 L583.52,960.17 L585.87,959.28 L588.2,958.34 L590.51,957.36 L592.8,956.33 L595.08,955.26 L597.34,954.14 L599.57,952.99 L601.78,951.79 L603.97,950.55 L606.14,949.27 L608.28,947.95 L610.4,946.59 L612.49,945.19 L614.56,943.75 L616.6,942.27 L618.61,940.76 L620.59,939.21 L622.54,937.63 L624.46,936.01 L626.34,934.35 L628.2,932.66 L630.02,930.94 L631.81,929.18 L633.56,927.39 L635.28,925.57 L636.96,923.72 L638.6,921.83 L640.21,919.92 L641.78,917.98 L643.3,916.01 L644.79,914 L646.23,911.98 L647.63,909.92 L648.99,907.84 L650.31,905.73 L651.58,903.59 L652.8,901.43 L653.98,899.25 L655.11,897.04 L656.19,894.81 L657.23,892.56 L658.21,890.28 L659.14,887.98 L660.02,885.66 L660.85,883.32 L661.63,880.96 L662.35,878.59 L663.02,876.19 L663.63,873.77 L664.19,871.34 L664.69,868.89 L665.13,866.43 L665.51,863.95 L665.84,861.45 L666.1,858.95 L666.31,856.43 L666.47,853.91 L666.56,851.38 L666.6,848.84 L666.59,846.3 L666.52,843.76 L666.39,841.22 L666.21,838.68 L665.97,836.14 L665.67,833.61 L665.33,831.09 L664.92,828.57 L664.47,826.06 L663.95,823.56 L663.39,821.08 L662.77,818.61 L662.1,816.15 L661.37,813.71 L660.6,811.3 L659.77,808.9 L658.88,806.53 L657.95,804.18 L656.96,801.85 L655.92,799.55 L654.83,797.29 L653.69,795.05 L652.5,792.84 L651.26,790.67 L649.97,788.54 L648.63,786.43 L647.24,784.36 L645.82,782.32 L644.35,780.31 L642.84,778.33 L641.3,776.36 L639.73,774.43 L638.12,772.51 L636.49,770.61 L634.84,768.73 L633.16,766.86 L631.46,765.01 L629.74,763.17 L628.01,761.34 L626.26,759.52 L624.51,757.71 L622.75,755.9 L620.98,754.09 L619.21,752.29 L617.44,750.48 L615.67,748.67 L613.91,746.86 L612.15,745.04 L610.41,743.21 L608.67,741.38 L606.96,739.53 L605.26,737.67 L603.58,735.79 L601.92,733.9 L600.28,731.99 L598.67,730.06 L597.09,728.12 L595.52,726.16 L593.99,724.19 L592.48,722.2 L590.99,720.19 L589.54,718.17 L588.11,716.13 L586.72,714.08 L585.35,712 L584.02,709.92 L582.71,707.82 L581.44,705.7 L580.2,703.56 L579,701.41 L577.83,699.25 L576.69,697.07 L575.6,694.87 L574.53,692.66 L573.51,690.43 L572.52,688.19 L571.57,685.93 L570.67,683.66 L569.8,681.37 L568.97,679.07 L568.18,676.75 L567.44,674.42 L566.74,672.07 L566.09,669.71 L565.48,667.33 L564.91,664.94 L564.39,662.53 L563.92,660.11 L563.49,657.67 L563.11,655.22 L562.77,652.75 L562.48,650.28 L562.22,647.79 L561.99,645.3 L561.8,642.8 L561.64,640.29 L561.51,637.77 L561.4,635.25 L561.32,632.72 L561.26,630.2 L561.21,627.66 L561.18,625.13 L561.17,622.6 L561.16,620.07 L561.17,617.55 L561.17,615.02 L561.19,612.5 L561.2,609.99 L561.21,607.48 L561.22,604.98 L561.22,602.49 L561.22,600.01" stroke="#000" stroke-width="2" fill="none" stroke-linejoin="round" stroke-linecap="round"/>
<path d="M441,870 L441.36,872.47 L441.81,874.92 L442.32,877.35 L442.9,879.76 L443.56,882.15 L444.28,884.51 L445.07,886.86 L445.93,889.18 L446.85,891.47 L447.83,893.74 L448.88,895.98 L449.99,898.2 L451.15,900.38 L452.38,902.54 L453.66,904.66 L455,906.76 L456.39,908.82 L457.84,910.85 L459.34,912.84 L460.89,914.8 L462.49,916.72 L464.14,918.6 L465.84,920.45 L467.58,922.25 L469.36,924.02 L471.19,925.74 L473.07,927.43 L474.98,929.06 L476.93,930.66 L478.92,932.21 L480.95,933.71 L483.01,935.17 L485.11,936.57 L487.24,937.93 L489.41,939.24 L491.6,940.5 L493.83,941.7 L496.08,942.86 L498.36,943.95 L500.66,945 L502.99,945.99 L505.35,946.92 L507.72,947.79 L510.12,948.6 L512.53,949.36 L514.97,950.05 L517.42,950.68 L519.88,951.25 L522.36,951.76 L524.86,952.2 L527.36,952.58 L529.88,952.89 L532.41,953.15 L534.94,953.34 L537.48,953.47 L540.02,953.53 L542.57,953.54 L545.12,953.49 L547.66,953.38 L550.21,953.21 L552.76,952.98 L555.3,952.7 L557.84,952.36 L560.37,951.96 L562.89,951.51 L565.41,951 L567.91,950.44 L570.4,949.82 L572.88,949.15 L575.34,948.43 L577.79,947.66 L580.22,946.83 L582.63,945.96 L585.02,945.03 L587.39,944.05 L589.73,943.03 L592.05,941.95 L594.35,940.83 L596.61,939.66 L598.85,938.45 L601.06,937.18 L603.23,935.88 L605.37,934.52 L607.48,933.12 L609.55,931.68 L611.59,930.2 L613.58,928.67 L615.54,927.1 L617.46,925.49 L619.33,923.84 L621.15,922.15 L622.94,920.41 L624.67,918.64 L626.36,916.83 L627.99,914.98 L629.58,913.1 L631.11,911.18 L632.59,909.22 L634.01,907.22 L635.38,905.19 L636.68,903.13 L637.93,901.03 L639.13,898.9 L640.26,896.74 L641.34,894.56 L642.36,892.34 L643.33,890.1 L644.23,887.83 L645.09,885.54 L645.88,883.22 L646.62,880.89 L647.3,878.53 L647.93,876.16 L648.5,873.76 L649.02,871.36 L649.48,868.93 L649.89,866.5 L650.24,864.05 L650.54,861.59 L650.78,859.12 L650.97,856.64 L651.11,854.16 L651.19,851.67 L651.22,849.18 L651.19,846.68 L651.11,844.18 L650.98,841.68 L650.8,839.18 L650.56,836.69 L650.27,834.2 L649.93,831.71 L649.53,829.23 L649.09,826.75 L648.59,824.29 L648.04,821.83 L647.44,819.39 L646.79,816.96 L646.08,814.54 L645.33,812.14 L644.53,809.75 L643.67,807.39 L642.77,805.04 L641.81,802.71 L640.81,800.4 L639.75,798.12 L638.65,795.86 L637.49,793.63 L636.29,791.42 L635.04,789.25 L633.74,787.1 L632.39,784.98 L630.99,782.9 L629.55,780.85 L628.05,778.83 L626.51,776.85 L624.92,774.91 L623.29,773 L621.62,771.12 L619.91,769.27 L618.17,767.45 L616.4,765.65 L614.61,763.87 L612.79,762.1 L610.96,760.35 L609.11,758.62 L607.26,756.89 L605.4,755.16 L603.54,753.44 L601.67,751.71 L599.82,749.98 L597.98,748.25 L596.14,746.5 L594.33,744.75 L592.54,742.97 L590.77,741.18 L589.03,739.37 L587.32,737.53 L585.65,735.67 L584.02,733.77 L582.43,731.85 L580.89,729.89 L579.39,727.9 L577.93,725.88 L576.5,723.83 L575.12,721.75 L573.77,719.65 L572.45,717.53 L571.17,715.38 L569.92,713.21 L568.69,711.02 L567.5,708.82 L566.33,706.59 L565.19,704.35 L564.07,702.1 L562.98,699.83 L561.9,697.56 L560.84,695.27 L559.81,692.98 L558.78,690.67 L557.78,688.37 L556.78,686.05 L555.8,683.74 L554.83,681.42 L553.86,679.11 L552.91,676.79" stroke="#000" stroke-width="2" fill="none" stroke-linejoin="round" stroke-linecap="round"/>
<path d="M416,816.4 L447,816.4 Q450.5,816.6 451.5,819.5 Q453.8,825 454.3,830.5 L454.3,868.6 Q453.8,874 451.5,879.5 Q450.5,882.2 447,882.3 L416,882.3 Q412.5,882.2 411.5,879.5 Q409.5,874 409.1,868.6 L409.1,830.5 Q409.5,825 411.5,819.5 Q412.5,816.6 416,816.4 Z" stroke="#000" stroke-width="2" fill="#fff" stroke-linejoin="round"/>
<line x1="430.4" y1="816.4" x2="430.4" y2="882.3" stroke="#000" stroke-width="1.7" />
<line x1="432.6" y1="816.4" x2="432.6" y2="882.3" stroke="#000" stroke-width="1.7" />
<line x1="409.1" y1="830.9" x2="454.3" y2="830.9" stroke="#000" stroke-width="2" fill="none" stroke-linejoin="round" stroke-linecap="round" />
<line x1="409.1" y1="867.7" x2="454.3" y2="867.7" stroke="#000" stroke-width="2" fill="none" stroke-linejoin="round" stroke-linecap="round" />
<rect x="412" y="817.6" width="17.5" height="2" fill="#777"/><rect x="433.5" y="817.6" width="17" height="2" fill="#777"/>
<rect x="412" y="879.3" width="17.5" height="2" fill="#777"/><rect x="433.5" y="879.3" width="17" height="2" fill="#777"/>
<circle cx="413.5" cy="849.4" r="2.1" fill="#000"/>
<path d="M439.5,844.3 L448.5,844.3 Q451.8,844.5 451.8,849.4 Q451.8,854.3 448.5,854.5 L439.5,854.5 Z" stroke="#000" stroke-width="1.8" fill="#fff"/>
<rect x="439.5" y="844.3" width="4" height="10.2" fill="#000"/>
<rect x="540.6" y="936.4" width="15" height="4.2" rx="1.5" fill="#fff" stroke="#000" stroke-width="2" fill="none" stroke-linejoin="round" stroke-linecap="round"/>
<line x1="543" y1="940.6" x2="543" y2="953.6" stroke="#000" stroke-width="2" fill="none" stroke-linejoin="round" stroke-linecap="round" />
<line x1="553" y1="940.6" x2="553" y2="953.6" stroke="#000" stroke-width="2" fill="none" stroke-linejoin="round" stroke-linecap="round" />
<rect x="542.5" y="953.6" width="11.2" height="14.7" fill="#0b0b0b"/>
<rect x="544.5" y="960" width="2.5" height="4" fill="#fff"/><rect x="549.5" y="959" width="1" height="6" fill="#fff"/>
<rect x="536.9" y="969" width="22.4" height="12.5" rx="2.5" fill="#0b0b0b"/>
<rect x="539.7" y="975.2" width="6.3" height="2.8" fill="#fff"/><rect x="549.5" y="975.2" width="6.3" height="2.8" fill="#fff"/>
<line x1="539" y1="971.5" x2="557" y2="971.5" stroke="#fff" stroke-width="0.7" />
</svg>
</body></html>
